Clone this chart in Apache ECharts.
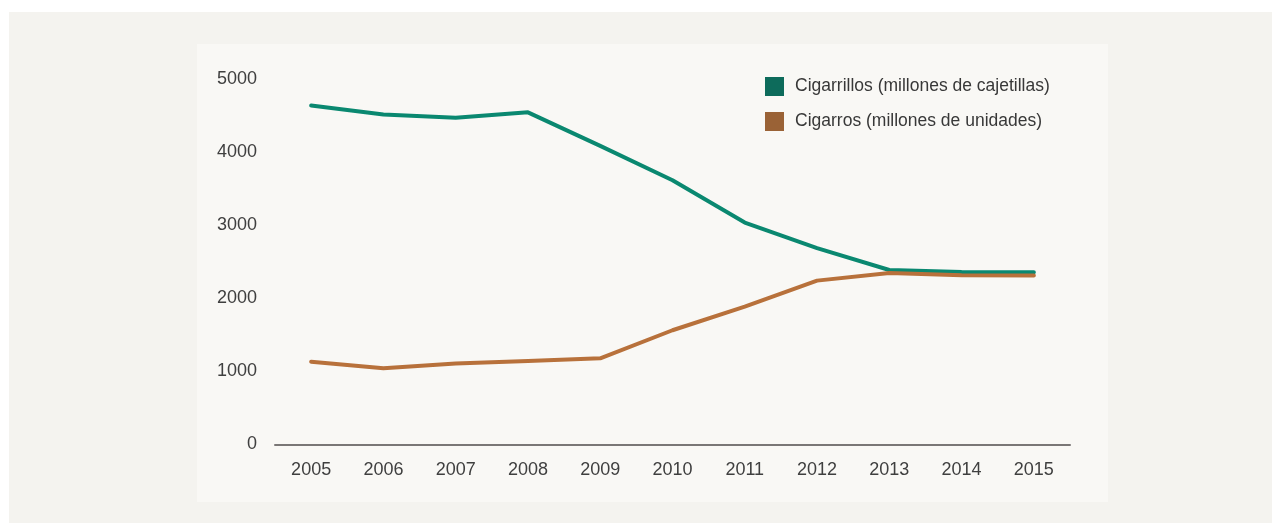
<!DOCTYPE html>
<html>
<head>
<meta charset="utf-8">
<script src="https://cdn.jsdelivr.net/npm/echarts@6/dist/echarts.min.js"></script>
<style>
  html, body { margin: 0; padding: 0; background: #ffffff; }
  .outer { position: absolute; left: 9px; top: 12px; width: 1263px; height: 511px; background: #f4f3ef; }
  .inner { position: absolute; left: 197px; top: 44px; width: 911px; height: 458px; background: #f9f8f5; }
  #chart { position: absolute; left: 0; top: 0; width: 1281px; height: 523px; }
</style>
</head>
<body>
<div class="outer"></div>
<div class="inner"></div>
<div id="chart"></div>
<script>
// datos
const years = ['2005', '2006', '2007', '2008', '2009', '2010', '2011', '2012', '2013', '2014', '2015']
const cigarrillos = [4645, 4520, 4475, 4550, 4090, 3620, 3040, 2690, 2390, 2362, 2358]
const cigarros = [1135, 1045, 1110, 1145, 1180, 1565, 1888, 2245, 2350, 2318, 2314]
const yTicks = [0, 1000, 2000, 3000, 4000, 5000]

const nameCigarrillos = 'Cigarrillos (millones de cajetillas)'
const nameCigarros = 'Cigarros (millones de unidades)'

const chart = echarts.init(document.getElementById('chart'))
const font = '"Liberation Sans", Arial, Helvetica, sans-serif'

chart.setOption({
  backgroundColor: 'transparent',
  animation: false,
  textStyle: { fontFamily: font },
  grid: { left: 275, right: 211, top: 79.5, bottom: 78.5 },
  legend: {
    orient: 'vertical',
    left: 765,
    top: 77,
    padding: 0,
    icon: 'rect',
    itemWidth: 19,
    itemHeight: 19,
    itemGap: 16,
    textStyle: { fontSize: 17.5, color: '#383838', fontFamily: font, padding: [3, 0, 0, 6] },
    data: [
      { name: nameCigarrillos, itemStyle: { color: '#0d6b5b' } },
      { name: nameCigarros, itemStyle: { color: '#9a6236' } }
    ]
  },
  xAxis: {
    type: 'category',
    data: years,
    boundaryGap: true,
    axisLine: { lineStyle: { color: '#7a7776', width: 2 } },
    axisTick: { show: false },
    axisLabel: { fontSize: 18, color: '#3f3f3f', margin: 17, fontFamily: font }
  },
  yAxis: {
    type: 'value',
    min: yTicks[0],
    max: yTicks[yTicks.length - 1],
    interval: 1000,
    axisLine: { show: false },
    axisTick: { show: false },
    splitLine: { show: false },
    axisLabel: { fontSize: 18, color: '#3f3f3f', margin: 18, fontFamily: font, padding: [4, 0, 0, 0], formatter: v => String(v) }
  },
  series: [
    {
      name: nameCigarrillos,
      type: 'line',
      data: cigarrillos,
      showSymbol: false,
      itemStyle: { color: '#0d6b5b' },
      lineStyle: { color: '#0a8870', width: 4, cap: 'round', join: 'round' }
    },
    {
      name: nameCigarros,
      type: 'line',
      data: cigarros,
      showSymbol: false,
      itemStyle: { color: '#9a6236' },
      lineStyle: { color: '#b8713b', width: 4, cap: 'round', join: 'round' }
    }
  ]
})
</script>
</body>
</html>
